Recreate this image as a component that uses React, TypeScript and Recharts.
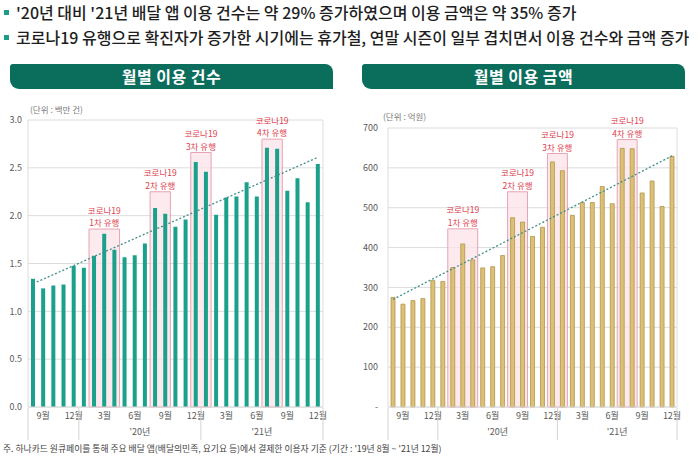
import React from 'react';
import {
  ComposedChart,
  Bar,
  Line,
  XAxis,
  YAxis,
  CartesianGrid,
  ReferenceArea,
} from 'recharts';

// Monthly periods, '19.08 ~ '21.12
const MONTHS = [
  '19.08', '19.09', '19.10', '19.11', '19.12',
  '20.01', '20.02', '20.03', '20.04', '20.05', '20.06', '20.07', '20.08', '20.09', '20.10', '20.11', '20.12',
  '21.01', '21.02', '21.03', '21.04', '21.05', '21.06', '21.07', '21.08', '21.09', '21.10', '21.11', '21.12',
];

// 월별 이용 건수 (백만 건)
const USE_COUNT = [
  1.34, 1.24, 1.27, 1.28, 1.475,
  1.455, 1.58, 1.81, 1.645, 1.565, 1.585, 1.71, 2.08, 2.02, 1.885, 1.96, 2.56,
  2.46, 2.01, 2.19, 2.2, 2.35, 2.2, 2.71, 2.7, 2.26, 2.39, 2.14, 2.54,
];

// 월별 이용 금액 (억원)
const USE_AMOUNT = [
  275, 258, 267, 272, 317,
  315, 350, 409, 369, 349, 352, 380, 475, 464, 428, 451, 615,
  593, 481, 513, 513, 553, 510, 649, 648, 537, 567, 503, 629,
];

// Linear trend endpoints (first month, last month)
const COUNT_TREND = [1.29, 2.61];
const AMOUNT_TREND = [270, 630];

// COVID-19 wave periods
const WAVE_NAMES = ['1차', '2차', '3차', '4차'];
const WAVE_FROM = ['20.02', '20.08', '20.12', '21.07'];
const WAVE_TO = ['20.04', '20.09', '21.01', '21.08'];
const WAVE_TOP_COUNT = [1.86, 2.25, 2.66, 2.8];
const WAVE_TOP_AMOUNT = [447, 540, 636, 671];

const COUNT_TICKS = [0, 0.5, 1, 1.5, 2, 2.5, 3];
const AMOUNT_TICKS = [0, 100, 200, 300, 400, 500, 600, 700];

const FONT = "'Noto Sans CJK KR', 'Noto Sans', sans-serif";
const GRID = '#dcdcdc';
const TICK_COLOR = '#5a5a5a';
const WAVE_RED = '#e0404e';

type Row = { month: string; value: number; trend: number | null };

function buildRows(values: number[], trend: number[]): Row[] {
  return MONTHS.map((m, i) => ({
    month: m,
    value: values[i],
    trend: i === 0 ? trend[0] : i === MONTHS.length - 1 ? trend[1] : null,
  }));
}

const countRows = buildRows(USE_COUNT, COUNT_TREND);
const amountRows = buildRows(USE_AMOUNT, AMOUNT_TREND);

// Month labels every quarter plus year groups with separators
function MonthTick(props: any) {
  const { x, y, payload, index, width } = props;
  const key: string = payload.value;
  const [yy, mm] = key.split('.');
  const m = Number(mm);
  const half = payload.offset ?? (width ? width / MONTHS.length / 2 : 5);
  const last = MONTHS.length - 1;
  const sep = (sx: number) => (
    <line x1={sx} x2={sx} y1={y + 1} y2={y + 33} stroke="#d4d4d4" strokeWidth={1} />
  );
  return (
    <g>
      {m % 3 === 0 && (
        <text x={x} y={y + 12} textAnchor="middle" fontSize={9} fill={TICK_COLOR}>
          {`${m}월`}
        </text>
      )}
      {m === 6 && (
        <text x={x + half} y={y + 28} textAnchor="middle" fontSize={9} fill={TICK_COLOR}>
          {`'${yy}년`}
        </text>
      )}
      {(m === 1 || index === 0) && sep(x - half)}
      {index === last && sep(x + half)}
    </g>
  );
}

function WaveLabel({ viewBox, name }: any) {
  if (!viewBox) return null;
  const cx = viewBox.x + viewBox.width / 2;
  const top = viewBox.y;
  return (
    <g>
      <text x={cx} y={top - 15.5} textAnchor="middle" fontSize={8.5} fill={WAVE_RED}>
        코로나19
      </text>
      <text x={cx} y={top - 3} textAnchor="middle" fontSize={8.5} fill={WAVE_RED}>
        {`${name} 유행`}
      </text>
    </g>
  );
}

type PanelProps = {
  rows: Row[];
  width: number;
  height: number;
  margin: { top: number; right: number; left: number; bottom: number };
  yWidth: number;
  yTickSize: number;
  ticks: number[];
  yMax: number;
  fmt: (v: number) => string;
  waveTops: number[];
  fill: string;
  stroke: string;
  barSize: number;
};

function Panel(p: PanelProps) {
  return (
    <ComposedChart
      width={p.width}
      height={p.height}
      data={p.rows}
      margin={p.margin}
      barCategoryGap={0}
    >
      <CartesianGrid
        stroke={GRID}
        strokeWidth={1}
        verticalCoordinatesGenerator={({ offset }: any) => [offset.left, offset.left + offset.width]}
      />
      {WAVE_NAMES.map((name, i) => (
        <ReferenceArea
          key={name}
          x1={WAVE_FROM[i]}
          x2={WAVE_TO[i]}
          y1={0}
          y2={p.waveTops[i]}
          fill="#fbe3e8"
          fillOpacity={0.75}
          stroke="#e8a3b4"
          strokeWidth={1}
          label={(lp: any) => <WaveLabel {...lp} name={name} />}
        />
      ))}
      <XAxis
        dataKey="month"
        interval={0}
        tickLine={false}
        tickSize={0}
        tickMargin={0}
        axisLine={{ stroke: GRID }}
        height={38}
        tick={<MonthTick />}
      />
      <YAxis
        width={p.yWidth}
        domain={[0, p.yMax]}
        ticks={p.ticks}
        tickFormatter={p.fmt}
        tickLine={false}
        axisLine={false}
        tickSize={p.yTickSize}
        tickMargin={2}
        tick={{ fontSize: 9, fill: TICK_COLOR }}
      />
      <Bar
        dataKey="value"
        fill={p.fill}
        stroke={p.stroke}
        strokeWidth={p.stroke === 'none' ? 0 : 0.8}
        barSize={p.barSize}
        isAnimationActive={false}
      />
      <Line
        dataKey="trend"
        connectNulls
        stroke="#3f8f8c"
        strokeWidth={1.3}
        strokeDasharray="2 2"
        dot={false}
        activeDot={false}
        isAnimationActive={false}
      />
    </ComposedChart>
  );
}

function Banner({ left, text }: { left: number; text: string }) {
  return (
    <div
      style={{
        position: 'absolute',
        left,
        top: 64,
        width: 323,
        height: 25,
        background: '#0b6e5d',
        borderRadius: '3px 8px 0 9px',
        color: '#ffffff',
        fontWeight: 700,
        fontSize: 16,
        lineHeight: '25px',
        textAlign: 'center',
        letterSpacing: 0.5,
      }}
    >
      {text}
    </div>
  );
}

function Bullet({ top, text }: { top: number; text: string }) {
  return (
    <div style={{ position: 'absolute', left: 0, top, height: 20, width: 700 }}>
      <div
        style={{
          position: 'absolute',
          left: 4,
          top: 8,
          width: 5,
          height: 5,
          background: '#1a9c86',
        }}
      />
      <div
        style={{
          position: 'absolute',
          left: 16,
          top: 0,
          fontSize: 16,
          lineHeight: '20px',
          color: '#1e1e1e',
          whiteSpace: 'nowrap',
          fontWeight: 500,
        }}
      >
        {text}
      </div>
    </div>
  );
}

export default function App() {
  return (
    <div
      style={{
        position: 'absolute',
        left: 0,
        top: 0,
        width: 700,
        height: 457,
        background: '#ffffff',
        fontFamily: FONT,
        overflow: 'hidden',
      }}
    >
      <Bullet top={2} text="'20년 대비 '21년 배달 앱 이용 건수는 약 29% 증가하였으며 이용 금액은 약 35% 증가" />
      <Bullet top={27} text="코로나19 유행으로 확진자가 증가한 시기에는 휴가철, 연말 시즌이 일부 겹치면서 이용 건수와 금액 증가" />

      <Banner left={10} text="월별 이용 건수" />
      <Banner left={362} text="월별 이용 금액" />

      <div style={{ position: 'absolute', left: 30, top: 103, fontSize: 8.5, color: '#7a7a7a' }}>
        (단위 : 백만 건)
      </div>
      <div style={{ position: 'absolute', left: 383, top: 110, fontSize: 8.5, color: '#7a7a7a' }}>
        (단위 : 억원)
      </div>

      <div style={{ position: 'absolute', left: 0, top: 100 }}>
        <Panel
          rows={countRows}
          width={340}
          height={345}
          margin={{ top: 20, right: 17, left: 0, bottom: 0 }}
          yWidth={28}
          yTickSize={4}
          ticks={COUNT_TICKS}
          yMax={3}
          fmt={(v) => v.toFixed(1)}
          waveTops={WAVE_TOP_COUNT}
          fill="#1ba18b"
          stroke="none"
          barSize={4}
        />
      </div>

      <div style={{ position: 'absolute', left: 350, top: 100 }}>
        <Panel
          rows={amountRows}
          width={345}
          height={345}
          margin={{ top: 28, right: 18, left: 0, bottom: 0 }}
          yWidth={38}
          yTickSize={8}
          ticks={AMOUNT_TICKS}
          yMax={700}
          fmt={(v) => (v === 0 ? '-' : String(v))}
          waveTops={WAVE_TOP_AMOUNT}
          fill="#dcc077"
          stroke="#b3954a"
          barSize={4}
        />
      </div>

      <div
        style={{
          position: 'absolute',
          left: 3,
          top: 442,
          fontSize: 8.8,
          color: '#444444',
          whiteSpace: 'nowrap',
          lineHeight: '14px',
        }}
      >
        주. 하나카드 원큐페이를 통해 주요 배달 앱(배달의민족, 요기요 등)에서 결제한 이용자 기준 (기간 : '19년 8월 ~ '21년 12월)
      </div>
    </div>
  );
}
